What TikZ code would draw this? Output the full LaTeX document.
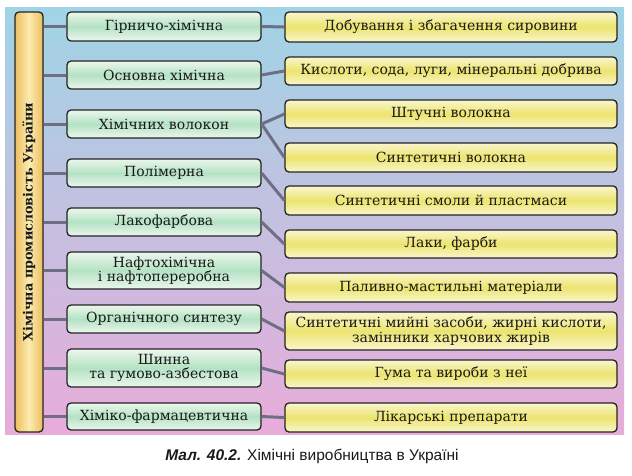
\documentclass[tikz,border=0pt]{standalone}
\usepackage{fontspec}
\usepackage{graphicx}
\setmainfont{DejaVu Serif}
\newfontfamily\capfont{Liberation Sans}
\definecolor{bgtop}{RGB}{160,212,230}
\definecolor{bgmid}{RGB}{205,200,232}
\definecolor{bgbot}{RGB}{232,172,218}
\definecolor{grn}{RGB}{180,226,196}
\definecolor{grnl}{RGB}{236,247,236}
\definecolor{yel}{RGB}{236,228,110}
\definecolor{yell}{RGB}{250,246,205}
\definecolor{org}{RGB}{236,190,95}
\definecolor{orgl}{RGB}{252,236,175}
\definecolor{conncol}{RGB}{112,110,132}
\definecolor{edge}{RGB}{35,35,35}
\definecolor{txt}{RGB}{25,25,25}
\tikzset{
  box/.style={draw=edge, line width=1.3pt, rounded corners=4pt, inner sep=0pt,
    align=center, text=txt, font=\fontsize{14}{14.5}\selectfont},
  midbox/.style={box, minimum width=194pt, top color=grnl, bottom color=grnl, middle color=grn},
  rbox/.style={box, minimum width=332pt, top color=yell, bottom color=yell, middle color=yel},
  conn/.style={draw=conncol, line width=3pt},
}
\begin{document}
\begin{tikzpicture}[x=1pt,y=-1pt]
\useasboundingbox (0,0) rectangle (632,475);
\shade[top color=bgtop, middle color=bgmid, bottom color=bgbot] (5,7) rectangle (624,434);
% left bar
\node[draw=edge, line width=1.3pt, rounded corners=4pt, inner sep=0pt,
  minimum width=28pt, minimum height=420pt, left color=org, right color=org, middle color=orgl,
  text=txt] (bar) at (29,222)
  {\rotatebox{90}{\fontsize{12.8}{15}\selectfont\bfseries Хімічна промисловість України}};
% middle column
\node[midbox, minimum height=29pt] (m1) at (164,26.5) {Гірничо-хімічна};
\node[midbox, minimum height=28pt] (m2) at (164,75) {Основна хімічна};
\node[midbox, minimum height=28pt] (m3) at (164,124) {Хімічних волокон};
\node[midbox, minimum height=28pt] (m4) at (164,173) {Полімерна};
\node[midbox, minimum height=28pt] (m5) at (164,222) {Лакофарбова};
\node[midbox, minimum height=37pt] (m6) at (164,270.5) {Нафтохімічна\\і нафтопереробна};
\node[midbox, minimum height=28pt] (m7) at (164,319) {Органічного синтезу};
\node[midbox, minimum height=38pt] (m8) at (164,368) {Шинна\\та гумово-азбестова};
\node[midbox, minimum height=27pt] (m9) at (164,416.5) {Хіміко-фармацевтична};
% right column
\node[rbox, minimum height=30pt] (r1) at (451,27) {Добування і збагачення сировини};
\node[rbox, minimum height=28pt] (r2) at (451,71) {Кислоти, сода, луги, мінеральні добрива};
\node[rbox, minimum height=28pt] (r3) at (451,114) {Штучні волокна};
\node[rbox, minimum height=29pt] (r4) at (451,157.5) {Синтетичні волокна};
\node[rbox, minimum height=29pt] (r5) at (451,200.5) {Синтетичні смоли й пластмаси};
\node[rbox, minimum height=28pt] (r6) at (451,244) {Лаки, фарби};
\node[rbox, minimum height=29pt] (r7) at (451,287.5) {Паливно-мастильні матеріали};
\node[rbox, minimum height=38pt] (r8) at (451,331) {Синтетичні мийні засоби, жирні кислоти,\\замінники харчових жирів};
\node[rbox, minimum height=28pt] (r9) at (451,374) {Гума та вироби з неї};
\node[rbox, minimum height=29pt] (r10) at (451,417.5) {Лікарські препарати};
% connectors from bar
\foreach \m in {m1,m2,m3,m4,m5,m6,m7,m8,m9}
  \draw[conn] (bar.east |- \m.west) -- (\m.west);
% connectors middle -> right
\draw[conn] (m1.east) -- (r1.west);
\draw[conn] (m2.east) -- (r2.west);
\draw[conn] (m3.east) -- (r3.west);
\draw[conn] (m3.east) -- (r4.west);
\draw[conn] (m4.east) -- (r5.west);
\draw[conn] (m5.east) -- (r6.west);
\draw[conn] (m6.east) -- (r7.west);
\draw[conn] (m7.east) -- (r8.west);
\draw[conn] (m8.east) -- (r9.west);
\draw[conn] (m9.east) -- (r10.west);
% caption
\node[font=\capfont\fontsize{15.5}{17}\selectfont, text=txt, anchor=base] (cap) at (312,460)
  {{\bfseries\itshape Мал. 40.2.} Хімічні виробництва в Україні};
\end{tikzpicture}
\end{document}
